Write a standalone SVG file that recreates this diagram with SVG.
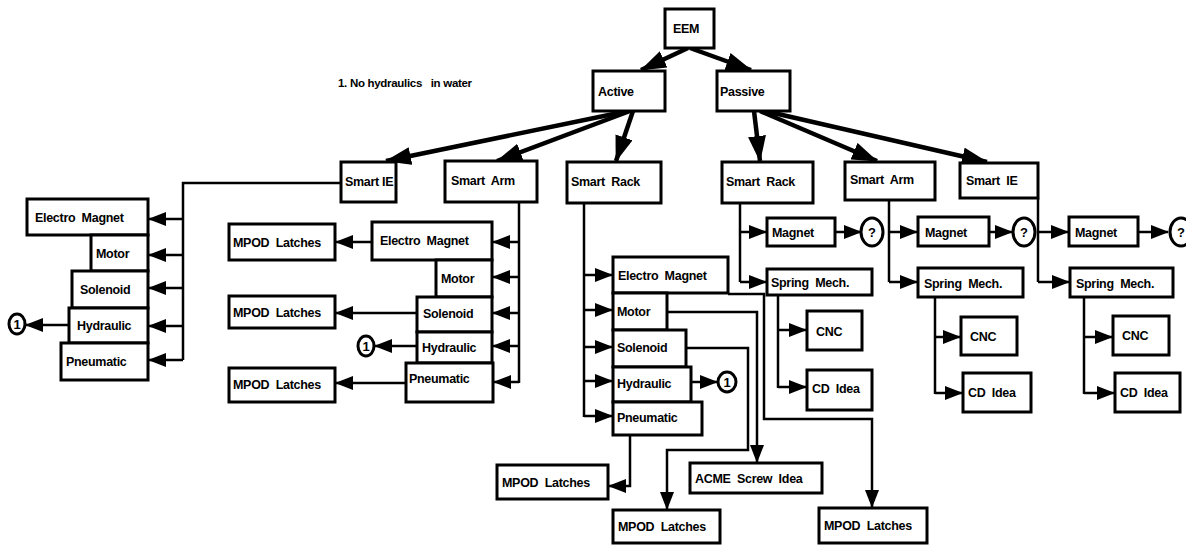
<svg xmlns="http://www.w3.org/2000/svg" width="1186" height="546" viewBox="0 0 1186 546">
<style>
.b{fill:#fff;stroke:#000;stroke-width:3}
.t{font-family:"Liberation Sans",Arial,sans-serif;font-weight:bold;font-size:12.5px;fill:#000;letter-spacing:-0.3px;white-space:pre}
.c{fill:none;stroke:#000;stroke-width:2.5}
.s{fill:none;stroke:#000;stroke-width:2.5;marker-end:url(#a)}
.L{fill:none;stroke:#000;stroke-width:4.5;marker-end:url(#A)}
.o{fill:#fff;stroke:#000;stroke-width:3}
.q{font-family:"Liberation Sans",Arial,sans-serif;font-weight:bold;font-size:13px;text-anchor:middle}
</style>
<defs>
<marker id="a" markerUnits="userSpaceOnUse" markerWidth="18" markerHeight="14" refX="17" refY="7" orient="auto"><path d="M0,0 L18,7 L0,14 Z" fill="#000"/></marker>
<marker id="A" markerUnits="userSpaceOnUse" markerWidth="26" markerHeight="18" refX="25" refY="9" orient="auto"><path d="M0,0 L26,9 L0,18 Z" fill="#000"/></marker>
</defs>
<rect width="1186" height="546" fill="#fff"/>
<text class="t" x="338" y="87" style="font-size:11.5px">1. No hydraulics   in water</text>

<g id="connectors">
<line class="L" x1="688" y1="48" x2="641" y2="70"/>
<line class="L" x1="690" y1="48" x2="751" y2="70"/>
<line class="L" x1="628" y1="111" x2="386" y2="161"/>
<line class="L" x1="630" y1="111" x2="497" y2="161"/>
<line class="L" x1="633" y1="111" x2="616" y2="161"/>
<line class="L" x1="754" y1="111" x2="760" y2="161"/>
<line class="L" x1="760" y1="111" x2="877" y2="161"/>
<line class="L" x1="765" y1="111" x2="987" y2="162"/>

<polyline class="c" points="341,183 183,183 183,360"/>
<line class="s" x1="183" y1="219" x2="149" y2="219"/>
<line class="s" x1="183" y1="255" x2="149" y2="255"/>
<line class="s" x1="183" y1="288" x2="149" y2="288"/>
<line class="s" x1="183" y1="326" x2="149" y2="326"/>
<line class="s" x1="183" y1="360" x2="149" y2="360"/>
<line class="s" x1="69" y1="325" x2="26" y2="325"/>

<line class="c" x1="519" y1="202" x2="519" y2="383"/>
<line class="s" x1="519" y1="242" x2="493" y2="242"/>
<line class="s" x1="519" y1="277" x2="493" y2="277"/>
<line class="s" x1="519" y1="313" x2="493" y2="313"/>
<line class="s" x1="519" y1="346" x2="493" y2="346"/>
<line class="s" x1="519" y1="382" x2="494" y2="382"/>
<line class="s" x1="372" y1="242" x2="336" y2="242"/>
<line class="s" x1="417" y1="313" x2="336" y2="313"/>
<line class="s" x1="417" y1="346" x2="375" y2="346"/>
<line class="s" x1="406" y1="383" x2="336" y2="383"/>

<line class="c" x1="584" y1="203" x2="584" y2="417"/>
<line class="s" x1="584" y1="275" x2="612" y2="275"/>
<line class="s" x1="584" y1="310" x2="612" y2="310"/>
<line class="s" x1="584" y1="347" x2="612" y2="347"/>
<line class="s" x1="584" y1="381" x2="612" y2="381"/>
<line class="s" x1="584" y1="416" x2="612" y2="416"/>
<line class="s" x1="691" y1="382" x2="717" y2="382"/>
<polyline class="s" points="630,435 630,486 609,486"/>
<polyline class="s" points="728,294 764,294 764,419 872,419 872,507"/>
<polyline class="s" points="667,312 757,312 757,462"/>
<polyline class="s" points="686,348 748,348 748,450 667,450 667,509"/>

<line class="c" x1="740" y1="203" x2="740" y2="282"/>
<line class="s" x1="740" y1="232" x2="766" y2="232"/>
<line class="s" x1="740" y1="282" x2="766" y2="282"/>
<line class="s" x1="835" y1="232" x2="861" y2="232"/>
<line class="c" x1="778" y1="295" x2="778" y2="388"/>
<line class="s" x1="778" y1="330" x2="806" y2="330"/>
<line class="s" x1="778" y1="387" x2="806" y2="387"/>

<line class="c" x1="889" y1="200" x2="889" y2="282"/>
<line class="s" x1="889" y1="232" x2="917" y2="232"/>
<line class="s" x1="889" y1="282" x2="917" y2="282"/>
<line class="s" x1="989" y1="232" x2="1012" y2="232"/>
<line class="c" x1="935" y1="297" x2="935" y2="394"/>
<line class="s" x1="935" y1="337" x2="960" y2="337"/>
<line class="s" x1="935" y1="393" x2="962" y2="393"/>

<line class="c" x1="1038" y1="198" x2="1038" y2="282"/>
<line class="s" x1="1038" y1="232" x2="1068" y2="232"/>
<line class="s" x1="1038" y1="282" x2="1069" y2="282"/>
<line class="s" x1="1138" y1="232" x2="1168" y2="232"/>
<line class="c" x1="1084" y1="297" x2="1084" y2="394"/>
<line class="s" x1="1084" y1="337" x2="1112" y2="337"/>
<line class="s" x1="1084" y1="393" x2="1114" y2="393"/>
</g>

<g id="eem"><rect class="b" x="665" y="9" width="49" height="39"/><text class="t" x="673" y="33">EEM</text></g>
<g id="active"><rect class="b" x="593" y="71" width="72" height="40"/><text class="t" x="598" y="96">Active</text></g>
<g id="passive"><rect class="b" x="717" y="71" width="73" height="40"/><text class="t" x="720" y="96">Passive</text></g>

<g id="a-smart-ie"><rect class="b" x="341" y="162" width="55" height="40"/><text class="t" x="345" y="186">Smart IE</text></g>
<g id="a-smart-arm"><rect class="b" x="445" y="161" width="92" height="41"/><text class="t" x="451" y="185">Smart  Arm</text></g>
<g id="a-smart-rack"><rect class="b" x="567" y="162" width="94" height="41"/><text class="t" x="571" y="186">Smart  Rack</text></g>
<g id="p-smart-rack"><rect class="b" x="722" y="162" width="91" height="41"/><text class="t" x="726" y="186">Smart  Rack</text></g>
<g id="p-smart-arm"><rect class="b" x="845" y="162" width="90" height="38"/><text class="t" x="850" y="184">Smart  Arm</text></g>
<g id="p-smart-ie"><rect class="b" x="960" y="163" width="78" height="35"/><text class="t" x="966" y="185">Smart  IE</text></g>

<g id="ie-em"><rect class="b" x="27" y="199" width="121" height="36"/><text class="t" x="35" y="222">Electro  Magnet</text></g>
<g id="ie-motor"><rect class="b" x="91" y="235" width="57" height="36"/><text class="t" x="96" y="258">Motor</text></g>
<g id="ie-solenoid"><rect class="b" x="72" y="271" width="76" height="37"/><text class="t" x="80" y="294">Solenoid</text></g>
<g id="ie-hydraulic"><rect class="b" x="69" y="308" width="79" height="35"/><text class="t" x="77" y="330">Hydraulic</text></g>
<g id="ie-pneumatic"><rect class="b" x="61" y="343" width="87" height="37"/><text class="t" x="66" y="366">Pneumatic</text></g>
<g id="ie-note"><ellipse class="o" cx="17" cy="324" rx="8" ry="10"/><text class="q" x="17" y="329">1</text></g>

<g id="arm-em"><rect class="b" x="372" y="222" width="120" height="38"/><text class="t" x="380" y="245">Electro  Magnet</text></g>
<g id="arm-motor"><rect class="b" x="436" y="260" width="56" height="37"/><text class="t" x="441" y="283">Motor</text></g>
<g id="arm-solenoid"><rect class="b" x="417" y="297" width="75" height="35"/><text class="t" x="423" y="318">Solenoid</text></g>
<g id="arm-hydraulic"><rect class="b" x="417" y="332" width="75" height="31"/><text class="t" x="422" y="352">Hydraulic</text></g>
<g id="arm-pneumatic"><rect class="b" x="406" y="363" width="87" height="39"/><text class="t" x="409" y="383">Pneumatic</text></g>
<g id="arm-mpod1"><rect class="b" x="229" y="224" width="106" height="36"/><text class="t" x="233" y="247">MPOD  Latches</text></g>
<g id="arm-mpod2"><rect class="b" x="229" y="296" width="106" height="32"/><text class="t" x="233" y="317">MPOD  Latches</text></g>
<g id="arm-mpod3"><rect class="b" x="229" y="368" width="106" height="34"/><text class="t" x="233" y="389">MPOD  Latches</text></g>
<g id="arm-note"><ellipse class="o" cx="366" cy="346" rx="8" ry="10"/><text class="q" x="366" y="351">1</text></g>

<g id="rack-em"><rect class="b" x="613" y="257" width="115" height="36"/><text class="t" x="618" y="280">Electro  Magnet</text></g>
<g id="rack-motor"><rect class="b" x="613" y="293" width="54" height="37"/><text class="t" x="617" y="316">Motor</text></g>
<g id="rack-solenoid"><rect class="b" x="613" y="330" width="73" height="37"/><text class="t" x="617" y="352">Solenoid</text></g>
<g id="rack-hydraulic"><rect class="b" x="613" y="367" width="78" height="35"/><text class="t" x="617" y="388">Hydraulic</text></g>
<g id="rack-pneumatic"><rect class="b" x="613" y="402" width="89" height="33"/><text class="t" x="617" y="422">Pneumatic</text></g>
<g id="rack-note"><ellipse class="o" cx="727" cy="382" rx="9" ry="10"/><text class="q" x="727" y="387">1</text></g>
<g id="rack-mpod-a"><rect class="b" x="497" y="465" width="111" height="34"/><text class="t" x="502" y="487">MPOD  Latches</text></g>
<g id="rack-acme"><rect class="b" x="690" y="463" width="132" height="30"/><text class="t" x="695" y="483">ACME  Screw  Idea</text></g>
<g id="rack-mpod-b"><rect class="b" x="613" y="510" width="107" height="33"/><text class="t" x="618" y="531">MPOD  Latches</text></g>
<g id="rack-mpod-c"><rect class="b" x="819" y="508" width="108" height="35"/><text class="t" x="824" y="530">MPOD  Latches</text></g>

<g id="pr-magnet"><rect class="b" x="767" y="218" width="68" height="28"/><text class="t" x="772" y="237">Magnet</text></g>
<g id="pr-q"><ellipse class="o" cx="872" cy="232" rx="11" ry="14"/><text class="q" x="872" y="237">?</text></g>
<g id="pr-spring"><rect class="b" x="767" y="269" width="105" height="26"/><text class="t" x="771" y="287">Spring  Mech.</text></g>
<g id="pr-cnc"><rect class="b" x="807" y="311" width="55" height="39"/><text class="t" x="816" y="336">CNC</text></g>
<g id="pr-cd"><rect class="b" x="807" y="370" width="65" height="40"/><text class="t" x="812" y="393">CD  Idea</text></g>

<g id="pa-magnet"><rect class="b" x="918" y="217" width="71" height="29"/><text class="t" x="925" y="237">Magnet</text></g>
<g id="pa-q"><ellipse class="o" cx="1024" cy="232" rx="11" ry="14"/><text class="q" x="1024" y="237">?</text></g>
<g id="pa-spring"><rect class="b" x="918" y="268" width="105" height="29"/><text class="t" x="924" y="288">Spring  Mech.</text></g>
<g id="pa-cnc"><rect class="b" x="961" y="317" width="56" height="38"/><text class="t" x="970" y="341">CNC</text></g>
<g id="pa-cd"><rect class="b" x="963" y="373" width="68" height="39"/><text class="t" x="968" y="397">CD  Idea</text></g>

<g id="pi-magnet"><rect class="b" x="1069" y="217" width="69" height="29"/><text class="t" x="1075" y="237">Magnet</text></g>
<g id="pi-q"><ellipse class="o" cx="1181" cy="232" rx="11" ry="14"/><text class="q" x="1181" y="237">?</text></g>
<g id="pi-spring"><rect class="b" x="1070" y="268" width="103" height="29"/><text class="t" x="1076" y="288">Spring  Mech.</text></g>
<g id="pi-cnc"><rect class="b" x="1113" y="316" width="56" height="39"/><text class="t" x="1122" y="340">CNC</text></g>
<g id="pi-cd"><rect class="b" x="1115" y="373" width="65" height="39"/><text class="t" x="1120" y="397">CD  Idea</text></g>
</svg>
